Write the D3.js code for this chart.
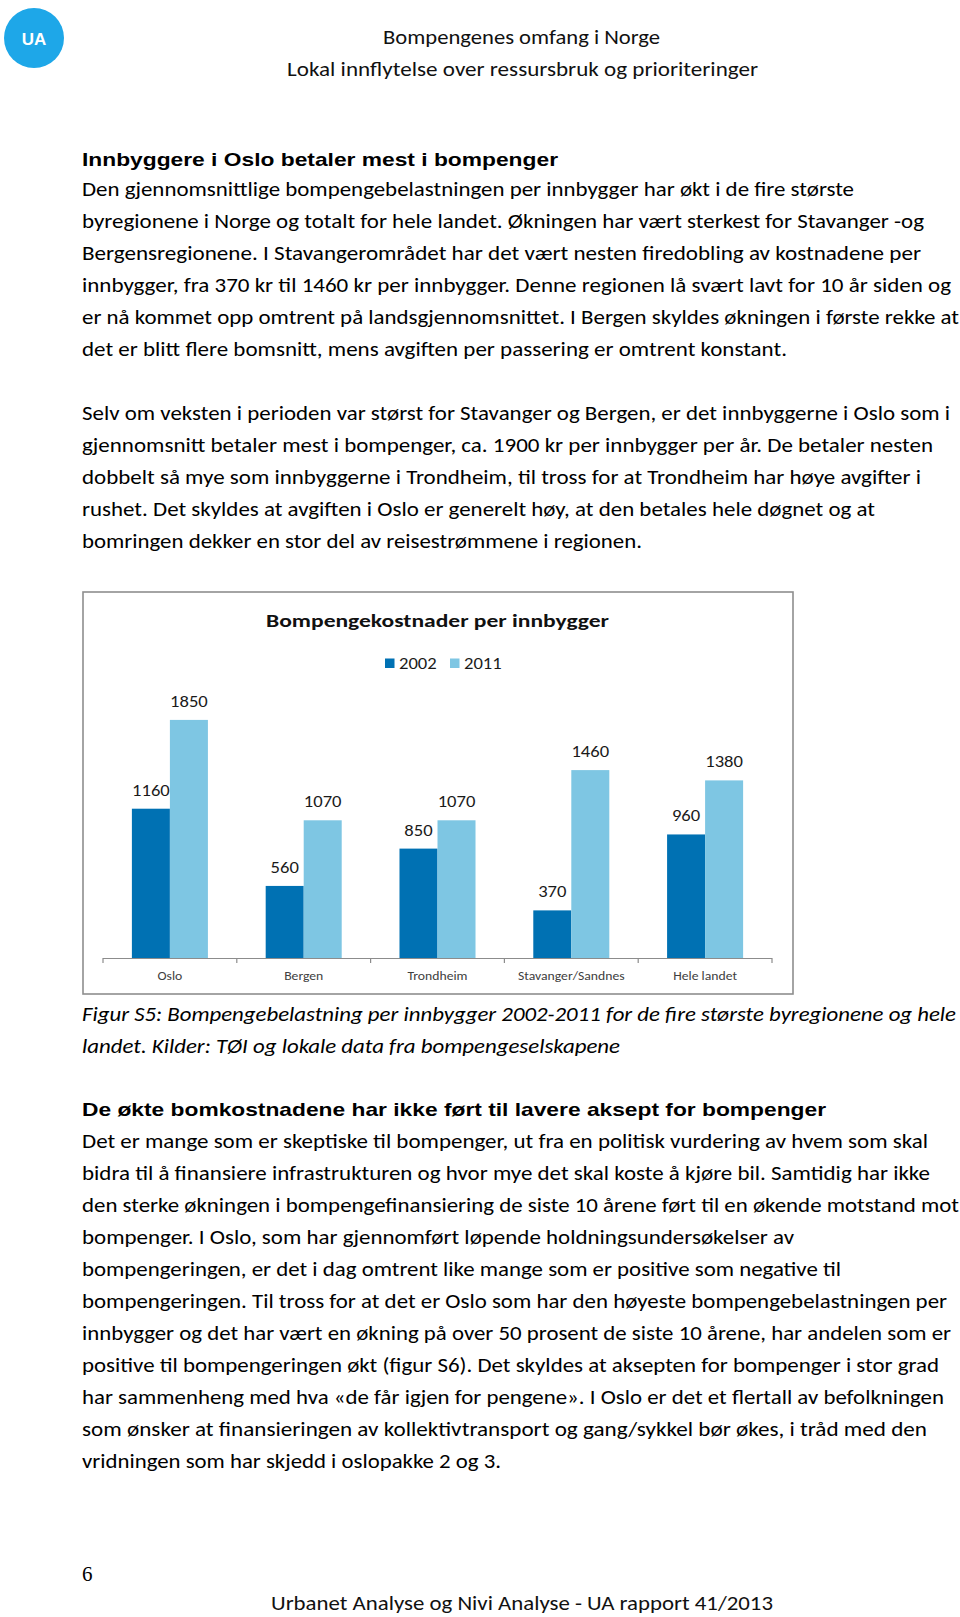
<!DOCTYPE html>
<html><head><meta charset="utf-8">
<script src="https://cdn.jsdelivr.net/npm/d3@7"></script>
<style>
html,body{margin:0;padding:0;background:#fff;}
svg{display:block;}
</style></head><body>
<svg id="page" width="960" height="1617"></svg>
<script>
// ---------- chart data ----------
const categories = ["Oslo", "Bergen", "Trondheim", "Stavanger/Sandnes", "Hele landet"];
const years = ["2002", "2011"];
const values2002 = [1160, 560, 850, 370, 960];
const values2011 = [1850, 1070, 1070, 1460, 1380];
const chartTitle = "Bompengekostnader per innbygger";
const yDomainMax = 2000;

// ---------- page text ----------
const headerLines = ["Bompengenes omfang i Norge", "Lokal innflytelse over ressursbruk og prioriteringer"];
const heading1 = "Innbyggere i Oslo betaler mest i bompenger";
const para1 = [
  "Den gjennomsnittlige bompengebelastningen per innbygger har økt i de fire største",
  "byregionene i Norge og totalt for hele landet. Økningen har vært sterkest for Stavanger -og",
  "Bergensregionene.  I Stavangerområdet har det vært nesten firedobling av kostnadene per",
  "innbygger, fra 370 kr til 1460 kr per innbygger. Denne regionen lå svært lavt for 10 år siden og",
  "er nå kommet opp omtrent på landsgjennomsnittet. I Bergen skyldes økningen i første rekke at",
  "det er blitt flere bomsnitt, mens avgiften per passering er omtrent konstant."
];
const para2 = [
  "Selv om veksten i perioden var størst for Stavanger og Bergen, er det innbyggerne i Oslo som i",
  "gjennomsnitt betaler mest i bompenger, ca. 1900 kr per innbygger per år. De betaler nesten",
  "dobbelt så mye som innbyggerne i Trondheim, til tross for at Trondheim har høye avgifter i",
  "rushet. Det skyldes at avgiften i Oslo er generelt høy, at den betales hele døgnet og at",
  "bomringen dekker en stor del av reisestrømmene i regionen."
];
const captionLines = [
  "Figur S5: Bompengebelastning per innbygger 2002-2011 for de fire største byregionene og hele",
  "landet. Kilder: TØI og lokale data fra bompengeselskapene"
];
const heading2 = "De økte bomkostnadene har ikke ført til lavere aksept for bompenger";
const para3 = [
  "Det er mange som er skeptiske til bompenger, ut fra en politisk vurdering av hvem som skal",
  "bidra til å finansiere infrastrukturen og hvor mye det skal koste å kjøre bil. Samtidig har ikke",
  "den sterke økningen i bompengefinansiering de siste 10 årene ført til en økende motstand mot",
  "bompenger. I Oslo, som har gjennomført løpende holdningsundersøkelser av",
  "bompengeringen, er det i dag omtrent like mange som er positive som negative til",
  "bompengeringen. Til tross for at det er Oslo som har den høyeste bompengebelastningen per",
  "innbygger og det har vært en økning på over 50 prosent de siste 10 årene, har andelen som er",
  "positive til bompengeringen økt (figur S6). Det skyldes at aksepten for bompenger i stor grad",
  "har sammenheng med hva «de får igjen for pengene». I Oslo er det et flertall av befolkningen",
  "som ønsker at finansieringen av kollektivtransport og gang/sykkel bør økes, i tråd med den",
  "vridningen som har skjedd i oslopakke 2 og 3."
];
const pageNumber = "6";
const footerText = "Urbanet Analyse og Nivi Analyse - UA rapport 41/2013";

// ---------- layout (line right edges, measured from the page) ----------
const para1Ends = [854, 924, 921, 951, 959, 787];
const para2Ends = [950, 933, 921, 875, 642];
const captionEnds = [956, 620];
const para3Ends = [928, 930, 959, 794, 841, 947, 951, 939, 944, 927, 501];

const svg = d3.select("#page");
const BODY = "Carlito, Lato, 'Open Sans', sans-serif";
const ARIAL = "'Liberation Sans', Arial, sans-serif";
const LEFT = 82;
const LINE = 32;

function fitText(x, y, txt, endX, opts) {
  const t = svg.append("text")
    .attr("x", x).attr("y", y)
    .attr("font-family", opts.family || BODY)
    .attr("font-size", opts.size || 20)
    .attr("fill", opts.fill || "#000")
    .text(txt);
  if (opts.weight) t.attr("font-weight", opts.weight);
  if (opts.style) t.attr("font-style", opts.style);
  if (endX != null) t.attr("textLength", endX - x).attr("lengthAdjust", "spacingAndGlyphs");
  return t;
}
function lines(arr, ends, y0, step, opts) {
  arr.forEach((s, i) => fitText(LEFT, y0 + i * step, s, ends[i], opts));
}
// horizontal stretch for chart texts (the embedded chart image is slightly widened)
function stretch(sel, k) {
  sel.each(function () {
    const w = this.getComputedTextLength();
    d3.select(this).attr("textLength", w * k).attr("lengthAdjust", "spacingAndGlyphs");
  });
}

// logo
svg.append("circle").attr("cx", 34).attr("cy", 38).attr("r", 30).attr("fill", "#1ea7e8");
svg.append("text").attr("x", 34).attr("y", 44.5).attr("text-anchor", "middle")
  .attr("font-family", ARIAL).attr("font-weight", "bold").attr("font-size", 17)
  .attr("fill", "#fff").text("UA");

// header
fitText(383, 44, headerLines[0], 660, {fill: "#111"});
fitText(287, 76, headerLines[1], 758, {fill: "#111"});

// heading 1 + paragraphs
fitText(LEFT, 166, heading1, 558, {family: ARIAL, weight: "bold", size: 19});
lines(para1, para1Ends, 196, LINE, {});
lines(para2, para2Ends, 420, LINE, {});

// ---------- chart ----------
const frame = {x: 83, y: 592, w: 710, h: 402};
svg.append("rect").attr("x", frame.x).attr("y", frame.y).attr("width", frame.w).attr("height", frame.h)
  .attr("fill", "#fff").attr("stroke", "#8e8e8e").attr("stroke-width", 1.6);

const plot = {left: 103, right: 772, top: 700.6, bottom: 958};
const x0 = d3.scaleBand().domain(categories).range([plot.left, plot.right]).padding(0);
const x1 = d3.scaleBand().domain(years).range([0, x0.bandwidth()]).paddingInner(0).paddingOuter(0.76);
const y = d3.scaleLinear().domain([0, yDomainMax]).range([plot.bottom, plot.top]);
const color = d3.scaleOrdinal().domain(years).range(["#0071b3", "#7ec6e3"]);

const rows = categories.map((c, i) => ({cat: c, vals: [
  {year: years[0], v: values2002[i]}, {year: years[1], v: values2011[i]}]}));

const groups = svg.append("g").selectAll("g").data(rows).join("g")
  .attr("transform", d => `translate(${x0(d.cat)},0)`);
groups.selectAll("rect").data(d => d.vals).join("rect")
  .attr("x", d => x1(d.year)).attr("width", x1.bandwidth())
  .attr("y", d => y(d.v)).attr("height", d => y(0) - y(d.v))
  .attr("fill", d => color(d.year));
const lbls = groups.selectAll("text.lbl").data(d => d.vals).join("text").attr("class", "lbl")
  .attr("x", d => x1(d.year) + x1.bandwidth() / 2)
  .attr("y", d => y(d.v) - 13)
  .attr("text-anchor", "middle")
  .attr("font-family", BODY).attr("font-size", 15.5).attr("fill", "#1a1a1a")
  .text(d => d.v);
stretch(lbls, 1.2);

// x axis
const axisG = svg.append("g").attr("transform", `translate(0,${plot.bottom})`)
  .call(d3.axisBottom(x0).tickSize(0));
axisG.select(".domain").remove();
const axisTexts = axisG.selectAll("text").attr("y", 22).attr("dy", 0)
  .attr("font-family", BODY).attr("font-size", 12).attr("fill", "#404040");
stretch(axisTexts, 1.14);
axisG.append("line").attr("x1", plot.left).attr("x2", plot.right)
  .attr("y1", 0.5).attr("y2", 0.5).attr("stroke", "#8c8c8c").attr("stroke-width", 1.2);
const bounds = categories.map(c => x0(c)).concat([x0.range()[1]]);
axisG.selectAll("line.tk").data(bounds).join("line").attr("class", "tk")
  .attr("x1", d => d).attr("x2", d => d).attr("y1", 0).attr("y2", 5)
  .attr("stroke", "#8c8c8c").attr("stroke-width", 1.2);

// chart title
svg.append("text").attr("x", 266).attr("y", 627)
  .attr("font-family", BODY).attr("font-weight", "bold").attr("font-size", 19)
  .attr("fill", "#111").attr("textLength", 343).attr("lengthAdjust", "spacingAndGlyphs")
  .text(chartTitle);

// legend
const legendX = [385, 450];
const legend = svg.append("g").selectAll("g").data(years).join("g")
  .attr("transform", (d, i) => `translate(${legendX[i]},658.5)`);
legend.append("rect").attr("width", 9.5).attr("height", 9.5).attr("fill", d => color(d));
const legTexts = legend.append("text").attr("x", 14).attr("y", 10)
  .attr("font-family", BODY).attr("font-size", 15.5).attr("fill", "#1a1a1a").text(d => d);
stretch(legTexts, 1.2);

// caption
lines(captionLines, captionEnds, 1021, LINE, {style: "italic"});

// heading 2 + paragraph 3
fitText(LEFT, 1116, heading2, 826, {family: ARIAL, weight: "bold", size: 19});
lines(para3, para3Ends, 1148, LINE, {});

// footer
svg.append("text").attr("x", 82).attr("y", 1581)
  .attr("font-family", "'Liberation Serif', 'Times New Roman', serif").attr("font-size", 21)
  .attr("fill", "#000").text(pageNumber);
fitText(271, 1610, footerText, 773, {size: 21, fill: "#111"});
</script>
</body></html>
